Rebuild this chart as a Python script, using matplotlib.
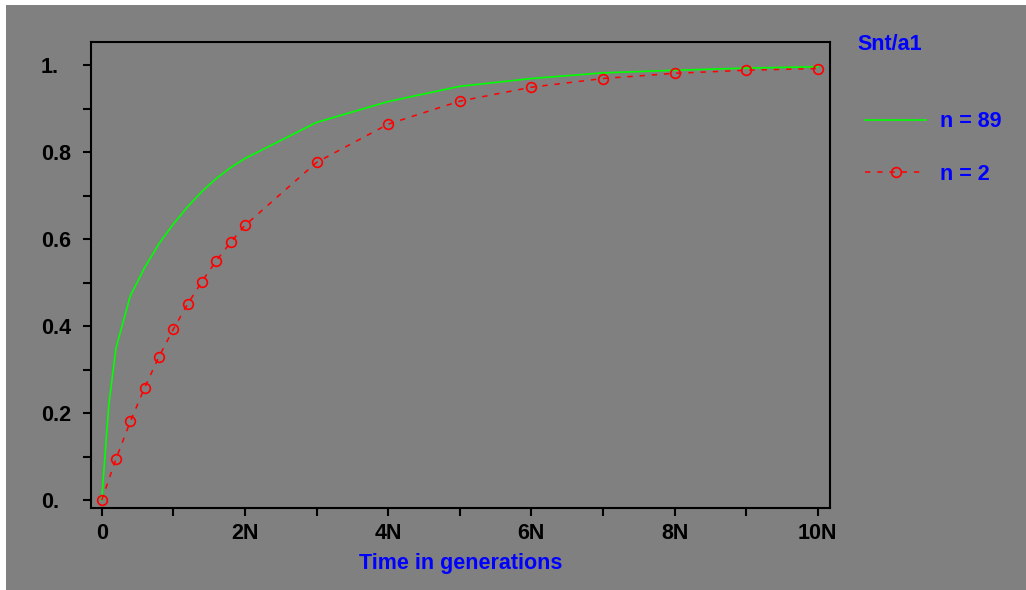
import matplotlib
matplotlib.use('Agg')
import matplotlib.pyplot as plt
from matplotlib.patches import Rectangle

# time points (in units of N generations)
t_fine = [0, 0.1, 0.2, 0.4, 0.6, 0.8, 1.0, 1.2, 1.4, 1.6, 1.8, 2.0, 3, 4, 5, 6, 7, 8, 9, 10]
t_red = [0, 0.2, 0.4, 0.6, 0.8, 1.0, 1.2, 1.4, 1.6, 1.8, 2.0, 3, 4, 5, 6, 7, 8, 9, 10]

# Snt/a1 for n = 89
snt_89 = [0, 0.22, 0.35, 0.47, 0.535, 0.59, 0.635, 0.675, 0.71, 0.74, 0.765, 0.786,
          0.869, 0.917, 0.952, 0.970, 0.983, 0.989, 0.994, 0.997]
# Snt/a1 for n = 2
snt_2 = [0, 0.095, 0.181, 0.259, 0.330, 0.393, 0.451, 0.503, 0.551, 0.593, 0.632,
         0.777, 0.865, 0.918, 0.950, 0.970, 0.982, 0.989, 0.993]

x_major = [0, 2, 4, 6, 8, 10]
x_minor = [1, 3, 5, 7, 9]
x_labels = ['0', '2N', '4N', '6N', '8N', '10N']
y_major = [0, 0.2, 0.4, 0.6, 0.8, 1.0]
y_minor = [0.1, 0.3, 0.5, 0.7, 0.9]
y_labels = ['0.', '0.2', '0.4', '0.6', '0.8', '1.']

GRAY = '#808080'
FONT = 'Liberation Sans'
FS = 15.5

W, H = 1026, 590
fig = plt.figure(figsize=(W / 100, H / 100), dpi=100, facecolor='white')
fig.add_artist(Rectangle((6 / W, 0), 1 - 6 / W, 1 - 5 / H, transform=fig.transFigure,
                         facecolor=GRAY, edgecolor='none', zorder=-10))

ax = fig.add_axes([91 / W, 1 - 508 / H, (830 - 91) / W, (508 - 42) / H])
ax.set_facecolor(GRAY)

ax.plot(t_fine, snt_89, color='#00ff00', lw=1.2, label='n = 89')
ax.plot(t_red, snt_2, color='#ff0000', lw=1.1, dashes=(3.5, 4.5), marker='o',
        ms=7, mfc='none', mec='#ff0000', mew=1.2, label='n = 2')

ax.set_xlim(-0.149, 10.17)
ax.set_ylim(-0.018, 1.054)

for s in ax.spines.values():
    s.set_linewidth(1.5)
    s.set_color('black')

ax.set_xticks(x_major)
ax.set_xticks(x_minor, minor=True)
ax.set_xticklabels(x_labels)
ax.set_yticks(y_major)
ax.set_yticks(y_minor, minor=True)
ax.set_yticklabels(y_labels)
ax.tick_params(which='both', direction='out', length=6, width=1.5, color='black')
ax.tick_params(axis='x', pad=5)
ax.tick_params(axis='y', pad=30)
for lab in ax.get_xticklabels() + ax.get_yticklabels():
    lab.set_fontfamily(FONT)
    lab.set_fontweight('bold')
    lab.set_fontsize(FS)
for lab in ax.get_yticklabels():
    lab.set_horizontalalignment('left')

ax.set_xlabel('Time in generations', fontfamily=FONT, fontweight='bold',
              fontsize=FS, color='#0000ff', labelpad=6)

fig.text(857 / W, 1 - 45 / H, 'Snt/a1', fontfamily=FONT, fontweight='bold',
         fontsize=FS, color='#0000ff', ha='left', va='center')

leg = ax.legend(loc='upper left', bbox_to_anchor=(846 / W, 1 - 92 / H),
                bbox_transform=fig.transFigure, frameon=False, numpoints=1,
                handlelength=2.8, handletextpad=0.65, labelspacing=1.45,
                prop={'family': FONT, 'weight': 'bold', 'size': FS})
for txt in leg.get_texts():
    txt.set_color('#0000ff')

fig.savefig('out.png', dpi=100, facecolor=fig.get_facecolor())
